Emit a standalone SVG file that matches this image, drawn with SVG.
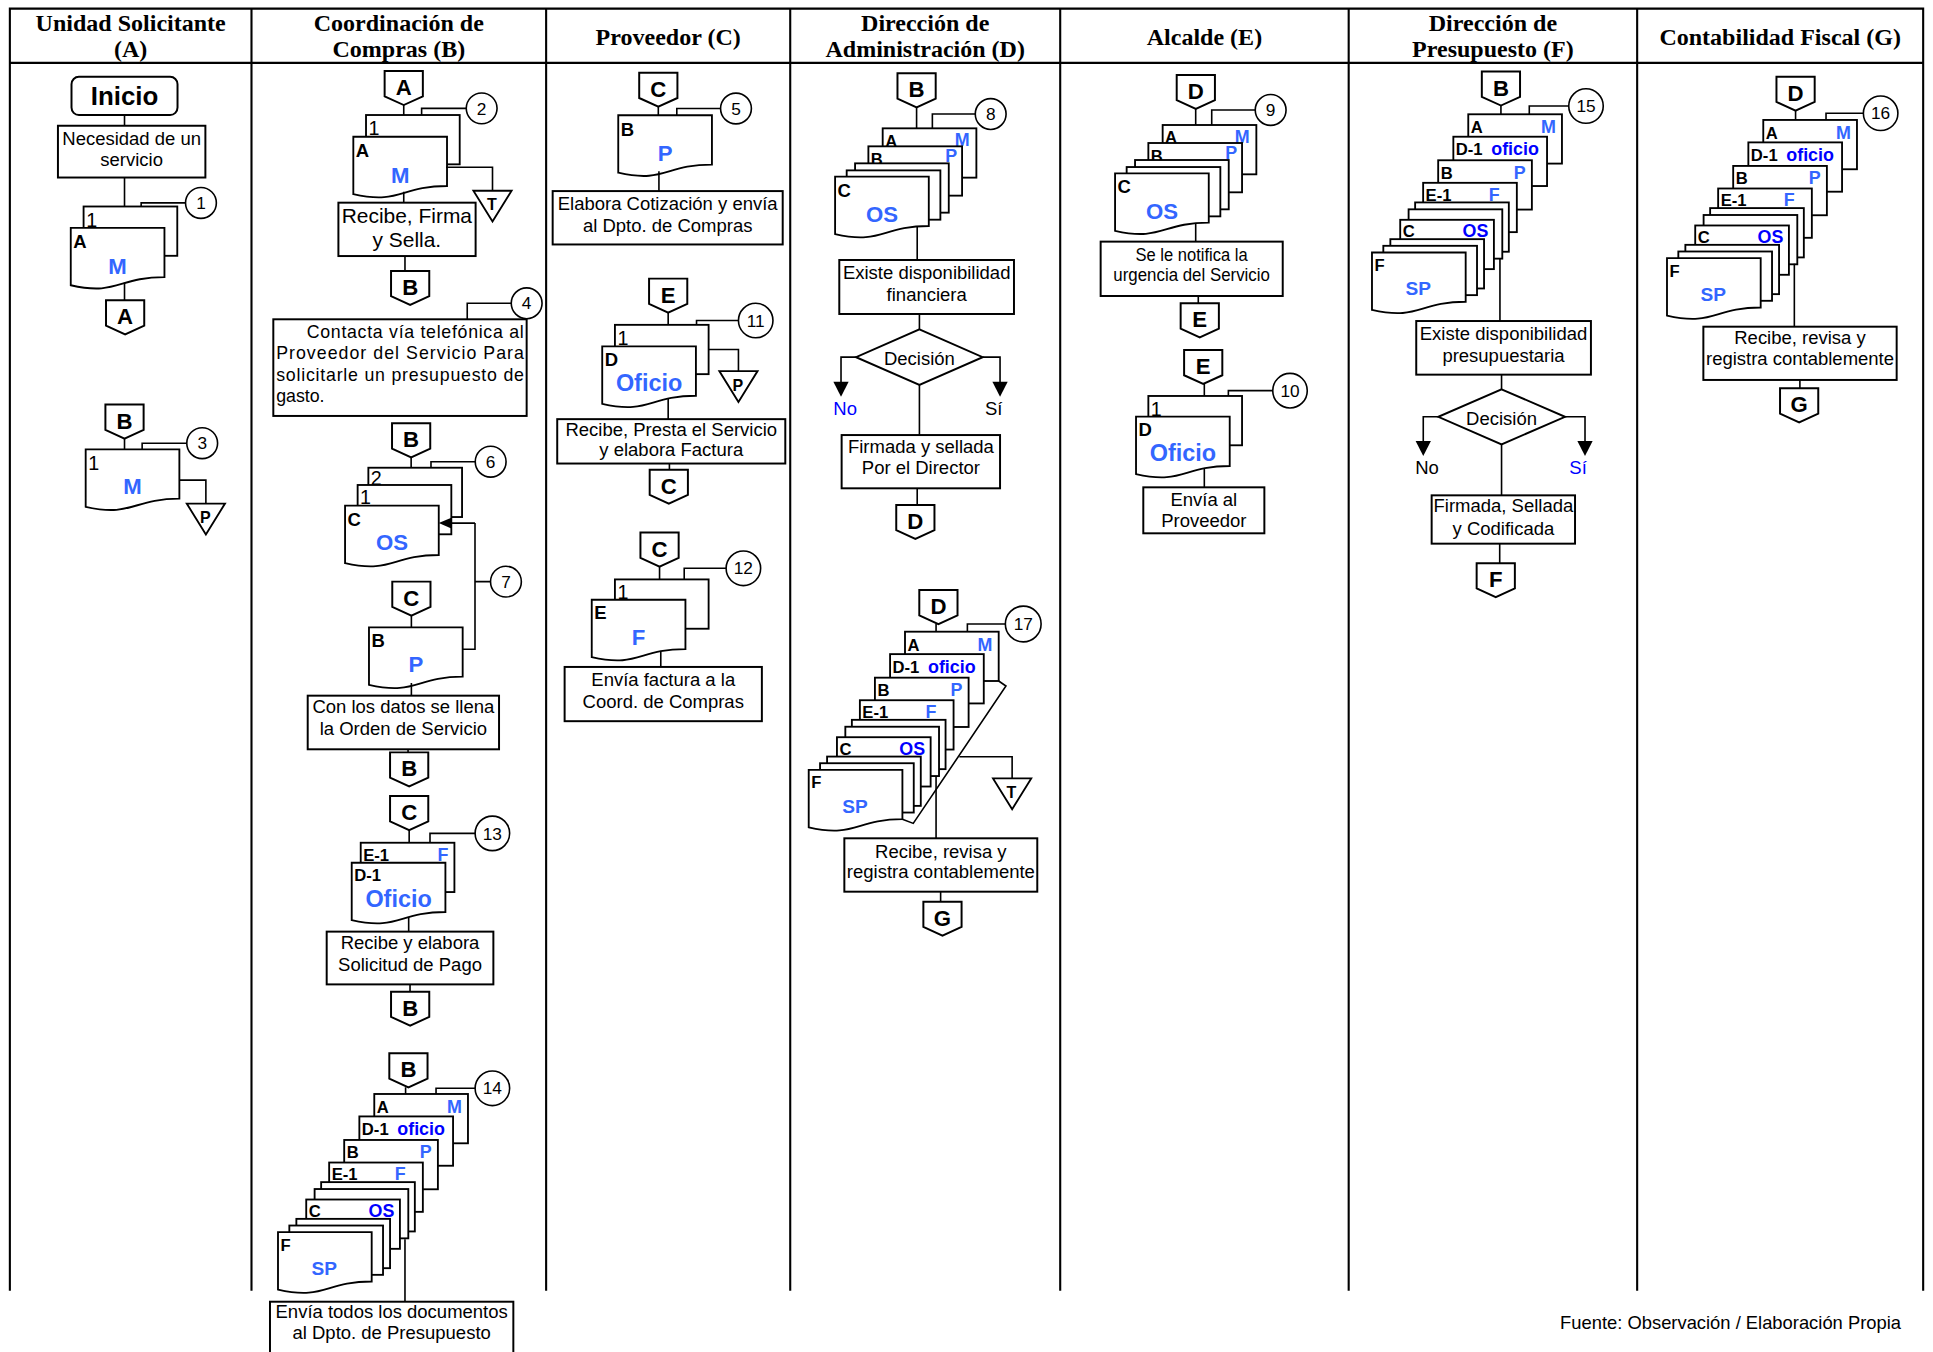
<svg xmlns="http://www.w3.org/2000/svg" width="1933" height="1352" viewBox="0 0 1933 1352">
<style>
.tb{fill:none;stroke:#000;stroke-width:1.7}
.bx{fill:#fff;stroke:#000;stroke-width:1.6}
.ln{fill:none;stroke:#000;stroke-width:1.3}
.ah{fill:#000;stroke:none}
.ci{fill:#fff;stroke:#000;stroke-width:1.3}
text{font-family:"Liberation Sans",Arial,sans-serif;fill:#000}
.hd{font-family:"Liberation Serif","Times New Roman",serif;font-weight:bold;font-size:19.5px;text-anchor:middle}
.t{font-size:15px;text-anchor:middle}
.cn{font-size:18px;font-weight:bold;text-anchor:middle}
.num{font-size:14px;text-anchor:middle}
.lk{font-size:13.5px;font-weight:bold}
.lg{font-size:15px;font-weight:bold}
.l1{font-size:16px}
.lc{font-size:14.5px;font-weight:bold;text-anchor:end}
.tl{font-size:13px;font-weight:bold;text-anchor:middle}
.lb{fill:#3366ff;font-weight:bold}
.db{fill:#0000ff;font-weight:bold}
.blue{fill:#0000ff}
</style>
<defs>
<path id="doc" d="M0,0H76V40C38,40 38,55.2 0,46.6Z" fill="#fff" stroke="#000" stroke-width="1.5"/>
<rect id="pg" width="76" height="40" fill="#fff" stroke="#000" stroke-width="1.5"/>
<path id="op" d="M0,0H31V20.5L15.5,27.6L0,20.5Z" fill="#fff" stroke="#000" stroke-width="1.6"/>
<path id="tri" d="M0,0H31L15.5,25Z" fill="#fff" stroke="#000" stroke-width="1.5"/>
</defs>
<g transform="scale(1.2328)">
<g id="table">
<path class="tb" d="M8,1047V7H1560V1047M8,51H1560M204,7V1047M443,7V1047M641,7V1047M860,7V1047M1094,7V1047M1328,7V1047"/>
<text class="hd" x="106" y="25.5">Unidad Solicitante</text>
<text class="hd" x="106" y="46">(A)</text>
<text class="hd" x="323.5" y="25.5">Coordinación de</text>
<text class="hd" x="323.5" y="46">Compras (B)</text>
<text class="hd" x="542" y="36.5">Proveedor (C)</text>
<text class="hd" x="750.5" y="25.5">Dirección de</text>
<text class="hd" x="750.5" y="46">Administración (D)</text>
<text class="hd" x="977" y="36.5">Alcalde (E)</text>
<text class="hd" x="1211" y="25.5">Dirección de</text>
<text class="hd" x="1211" y="46">Presupuesto (F)</text>
<text class="hd" x="1444" y="36.5">Contabilidad Fiscal (G)</text>
</g>

<!-- Column A -->
<g id="a-inicio"><rect class="bx" x="58" y="62.3" width="86" height="31" rx="6"/><text x="101" y="85" style="font-size:21px;font-weight:bold" text-anchor="middle">Inicio</text></g>
<g id="a-necesidad"><rect class="bx" x="47" y="102" width="119.6" height="42"/><text class="t" x="106.8" y="117.3">Necesidad de un</text><text class="t" x="106.8" y="134.7">servicio</text></g>
<g id="a-doc1"><use href="#pg" x="67.8" y="167.5"/><text class="l1" x="70" y="183.8">1</text><use href="#doc" x="57.4" y="184.8"/><text class="lg" x="59.4" y="201">A</text><text class="cn lb" x="95.4" y="222">M</text></g>
<g id="a-c1"><circle class="ci" cx="163" cy="164.6" r="12.5"/><text class="num" x="163" y="169.6">1</text></g>
<g id="a-offA"><use href="#op" x="86" y="243.6"/><text class="cn" x="101.5" y="263.1">A</text></g>
<g id="a-offB"><use href="#op" x="85.5" y="328.2"/><text class="cn" x="101" y="347.7">B</text></g>
<g id="a-doc3"><use href="#doc" x="69.5" y="364.5"/><text class="l1" x="71.5" y="381">1</text><text class="cn lb" x="107.5" y="401">M</text></g>
<g id="a-c3"><circle class="ci" cx="164" cy="359.5" r="12.5"/><text class="num" x="164" y="364.5">3</text></g>
<g id="a-triP"><use href="#tri" x="151.5" y="408.5"/><text class="tl" x="166.5" y="424">P</text></g>

<!-- Column B -->
<g id="b-offA"><use href="#op" x="312" y="57.6"/><text class="cn" x="327.5" y="77.1">A</text></g>
<g id="b-c2"><circle class="ci" cx="390.7" cy="87.9" r="12.5"/><text class="num" x="390.7" y="92.9">2</text></g>
<g id="b-doc2"><use href="#pg" x="296.9" y="93.3"/><text class="l1" x="299" y="109.5">1</text><use href="#doc" x="286.6" y="110.9"/><text class="lg" x="288.6" y="127">A</text><text class="cn lb" x="324.6" y="148.5">M</text></g>
<g id="b-triT"><use href="#tri" x="384" y="154.7"/><text class="tl" x="399" y="170.5">T</text></g>
<g id="b-recibe"><rect class="bx" x="274.5" y="164.4" width="111.3" height="43.3"/><text class="t" style="font-size:17px" x="330" y="181.2">Recibe, Firma</text><text class="t" style="font-size:17px" x="330" y="200.6">y Sella.</text></g>
<g id="b-offB1"><use href="#op" x="317.2" y="219.8"/><text class="cn" x="332.7" y="239.3">B</text></g>
<g id="b-c4"><circle class="ci" cx="427.2" cy="246" r="12.5"/><text class="num" x="427.2" y="251">4</text></g>
<g id="b-contacta"><rect class="bx" x="221.7" y="259" width="205.5" height="78.4"/>
<text style="font-size:14.4px" x="248.8" y="274" textLength="176" lengthAdjust="spacing">Contacta vía telefónica al</text>
<text style="font-size:14.4px" x="224" y="291.5" textLength="201" lengthAdjust="spacing">Proveedor del Servicio Para</text>
<text style="font-size:14.4px" x="224" y="309" textLength="201" lengthAdjust="spacing">solicitarle un presupuesto de</text>
<text style="font-size:14.4px" x="224" y="326">gasto.</text></g>
<g id="b-offB2"><use href="#op" x="318" y="343.4"/><text class="cn" x="333.5" y="362.9">B</text></g>
<g id="b-c6"><circle class="ci" cx="398" cy="374.5" r="12.5"/><text class="num" x="398" y="379.5">6</text></g>
<g id="b-doc6"><use href="#pg" x="298.8" y="379.4"/><text class="l1" x="300.8" y="393.3">2</text><use href="#pg" x="290.1" y="393.4"/><text class="l1" x="292" y="408.8">1</text><use href="#doc" x="279.9" y="410.2"/><text class="lg" x="281.9" y="427">C</text><text class="cn lb" x="317.9" y="446">OS</text></g>
<g id="b-c7"><circle class="ci" cx="410.4" cy="471.8" r="12.5"/><text class="num" x="410.4" y="476.8">7</text></g>
<g id="b-offC1"><use href="#op" x="318.2" y="471.8"/><text class="cn" x="333.7" y="491.3">C</text></g>
<g id="b-docP"><use href="#doc" x="299.3" y="508.9"/><text class="lg" x="301.3" y="525">B</text><text class="cn lb" x="337.3" y="545.5">P</text></g>
<g id="b-orden"><rect class="bx" x="249.6" y="564.3" width="155.2" height="43.5"/><text class="t" x="327.2" y="578.6">Con los datos se llena</text><text class="t" x="327.2" y="596.2">la Orden de Servicio</text></g>
<g id="b-offB3"><use href="#op" x="316.4" y="610.3"/><text class="cn" x="331.9" y="629.8">B</text></g>
<g id="b-offC2"><use href="#op" x="316.4" y="645.7"/><text class="cn" x="331.9" y="665.2">C</text></g>
<g id="b-c13"><circle class="ci" cx="399.4" cy="676" r="14"/><text class="num" x="399.4" y="681">13</text></g>
<g id="b-doc13"><use href="#pg" x="292.6" y="683.6"/><text class="lk" x="294.6" y="698.2">E-1</text><text class="lc lb" x="363.7" y="698.2">F</text><use href="#doc" x="285.3" y="699.8"/><text class="lk" x="287.3" y="714.4">D-1</text><text class="cn lb" style="font-size:19px" x="323.3" y="735.5">Oficio</text></g>
<g id="b-solicitud"><rect class="bx" x="265" y="755.7" width="135.2" height="42.8"/><text class="t" x="332.6" y="770">Recibe y elabora</text><text class="t" x="332.6" y="787.6">Solicitud de Pago</text></g>
<g id="b-offB4"><use href="#op" x="317.2" y="804.4"/><text class="cn" x="332.7" y="823.9">B</text></g>
<g id="b-offB5"><use href="#op" x="315.8" y="854.4"/><text class="cn" x="331.3" y="873.9">B</text></g>
<g id="b-c14"><circle class="ci" cx="399.4" cy="882.8" r="14"/><text class="num" x="399.4" y="887.8">14</text></g>
<g id="b-stack14" transform="translate(303.6,887.4)">
<use href="#pg"/><text class="lk" x="2" y="15.5">A</text><text class="lc lb" x="71" y="15.5">M</text>
<use href="#pg" x="-12.1" y="18.2"/><text class="lk" x="-10.1" y="33.2">D-1</text><text class="lc db" x="57.3" y="33.2">oficio</text>
<use href="#pg" x="-24.4" y="37.3"/><text class="lk" x="-22.4" y="52.3">B</text><text class="lc lb" x="46.6" y="52.3">P</text>
<use href="#pg" x="-36.6" y="55.6"/><text class="lk" x="-34.6" y="70">E-1</text><text class="lc lb" x="25.4" y="70">F</text>
<use href="#pg" x="-43.1" y="71.5"/><use href="#pg" x="-48.4" y="77.1"/>
<use href="#pg" x="-55.2" y="85.6"/><text class="lk" x="-53.2" y="99.8">C</text><text class="lc db" x="16.3" y="99.8">OS</text>
<use href="#pg" x="-63.2" y="101.3"/><use href="#pg" x="-68.9" y="106.7"/>
<use href="#doc" x="-78.1" y="112.1"/><text class="lk" x="-76.1" y="127.1">F</text><text class="cn lb" style="font-size:15.5px" x="-40.5" y="146.7">SP</text>
</g>
<g id="b-envia"><rect class="bx" x="219" y="1055.9" width="197.4" height="42"/><text class="t" x="317.7" y="1069.4">Envía todos los documentos</text><text class="t" x="317.7" y="1086.1">al Dpto. de Presupuesto</text></g>

<!-- Column C -->
<g id="c-offC1"><use href="#op" x="518.5" y="59"/><text class="cn" x="534" y="78.5">C</text></g>
<g id="c-c5"><circle class="ci" cx="597" cy="88" r="12.5"/><text class="num" x="597" y="93">5</text></g>
<g id="c-docP"><use href="#doc" x="501.5" y="93.5"/><text class="lg" x="503.5" y="110">B</text><text class="cn lb" x="539.5" y="130.5">P</text></g>
<g id="c-cotiza"><rect class="bx" x="448.3" y="155" width="186.6" height="43.3"/><text class="t" x="541.6" y="170.5">Elabora Cotización y envía</text><text class="t" x="541.6" y="188">al Dpto. de Compras</text></g>
<g id="c-offE"><use href="#op" x="526.5" y="226"/><text class="cn" x="542" y="245.5">E</text></g>
<g id="c-c11"><circle class="ci" cx="613" cy="260" r="14"/><text class="num" x="613" y="265">11</text></g>
<g id="c-doc11"><use href="#pg" x="498.8" y="263.5"/><text class="l1" x="500.8" y="279.8">1</text><use href="#doc" x="488.5" y="281"/><text class="lg" x="490.5" y="297">D</text><text class="cn lb" style="font-size:19px" x="526.5" y="317">Oficio</text></g>
<g id="c-triP"><use href="#tri" x="583.5" y="301"/><text class="tl" x="598.5" y="317">P</text></g>
<g id="c-presta"><rect class="bx" x="452" y="340" width="185" height="36"/><text class="t" x="544.5" y="353.5">Recibe, Presta el Servicio</text><text class="t" x="544.5" y="370">y elabora Factura</text></g>
<g id="c-offC2"><use href="#op" x="527" y="381"/><text class="cn" x="542.5" y="400.5">C</text></g>
<g id="c-offC3"><use href="#op" x="519.5" y="432"/><text class="cn" x="535" y="451.5">C</text></g>
<g id="c-c12"><circle class="ci" cx="603" cy="461" r="14"/><text class="num" x="603" y="466">12</text></g>
<g id="c-doc12"><use href="#pg" x="498.8" y="470"/><text class="l1" x="500.8" y="486">1</text><use href="#doc" x="480" y="486.5"/><text class="lg" x="482" y="502.5">E</text><text class="cn lb" x="518" y="523">F</text></g>
<g id="c-factura"><rect class="bx" x="458" y="541" width="160" height="44"/><text class="t" x="538" y="556.5">Envía factura a la</text><text class="t" x="538" y="574">Coord. de Compras</text></g>

<!-- Column D -->
<g id="d-offB"><use href="#op" x="728" y="59.5"/><text class="cn" x="743.5" y="79">B</text></g>
<g id="d-c8"><circle class="ci" cx="803.6" cy="92.5" r="12.5"/><text class="num" x="803.6" y="97.5">8</text></g>
<g id="d-stack8" transform="translate(716,104.1)">
<use href="#pg"/><text class="lk" x="2" y="15">A</text><text class="lc lb" x="70.5" y="14.5">M</text>
<use href="#pg" x="-11.6" y="14.6"/><text class="lk" x="-9.6" y="29.8">B</text><text class="lc lb" x="60.4" y="27.5">P</text>
<use href="#pg" x="-22.4" y="28.4"/><use href="#pg" x="-29.2" y="34.1"/>
<use href="#doc" x="-38.6" y="39.2"/><text class="lg" x="-36.6" y="55.4">C</text><text class="cn lb" x="-0.6" y="76">OS</text>
</g>
<g id="d-financiera"><rect class="bx" x="680.8" y="210.9" width="141.7" height="43.8"/><text class="t" x="751.7" y="226.6">Existe disponibilidad</text><text class="t" x="751.7" y="243.9">financiera</text></g>
<g id="d-decision"><path class="bx" d="M745.8,267.1L797.1,289.7L745.8,312.3L694.4,289.7Z"/><text class="t" x="745.8" y="296">Decisión</text></g>
<g id="d-no"><text class="blue" style="font-size:15px" x="676" y="336.5">No</text></g>
<g id="d-si"><text style="font-size:15px" x="799" y="336.5">Sí</text></g>
<g id="d-firmada"><rect class="bx" x="682.7" y="352.9" width="128.5" height="43.2"/><text class="t" x="747" y="367.2">Firmada y sellada</text><text class="t" x="747" y="384.5">Por el Director</text></g>
<g id="d-offD1"><use href="#op" x="727" y="409.6"/><text class="cn" x="742.5" y="429.1">D</text></g>
<g id="d-offD2"><use href="#op" x="745.7" y="478.6"/><text class="cn" x="761.2" y="498.1">D</text></g>
<g id="d-c17"><circle class="ci" cx="830" cy="506.2" r="14.5"/><text class="num" x="830" y="511.2">17</text></g>
<g id="d-stack17" transform="translate(734.1,512.4)">
<use href="#pg"/><text class="lk" x="2" y="15.5">A</text><text class="lc lb" x="71" y="15.5">M</text>
<use href="#pg" x="-12.1" y="18.2"/><text class="lk" x="-10.1" y="33.2">D-1</text><text class="lc db" x="57.3" y="33.2">oficio</text>
<use href="#pg" x="-24.4" y="37.3"/><text class="lk" x="-22.4" y="52.3">B</text><text class="lc lb" x="46.6" y="52.3">P</text>
<use href="#pg" x="-36.6" y="55.6"/><text class="lk" x="-34.6" y="70">E-1</text><text class="lc lb" x="25.4" y="70">F</text>
<use href="#pg" x="-43.1" y="71.5"/><use href="#pg" x="-48.4" y="77.1"/>
<use href="#pg" x="-55.2" y="85.6"/><text class="lk" x="-53.2" y="99.8">C</text><text class="lc db" x="16.3" y="99.8">OS</text>
<use href="#pg" x="-63.2" y="101.3"/><use href="#pg" x="-68.9" y="106.7"/>
<use href="#doc" x="-78.1" y="112.1"/><text class="lk" x="-76.1" y="127.1">F</text><text class="cn lb" style="font-size:15.5px" x="-40.5" y="146.7">SP</text>
<path class="ln" d="M76,40L81.9,44.1L6.7,155.5L-2.1,152.1"/>
</g>
<g id="d-triT"><use href="#tri" x="805.5" y="631.4"/><text class="tl" x="820.5" y="647">T</text></g>
<g id="d-registra"><rect class="bx" x="684.9" y="680" width="156.5" height="43.3"/><text class="t" x="763.2" y="695.7">Recibe, revisa y</text><text class="t" x="763.2" y="712.5">registra contablemente</text></g>
<g id="d-offG"><use href="#op" x="749" y="731.4"/><text class="cn" x="764.5" y="750.9">G</text></g>

<!-- Column E -->
<g id="e-offD"><use href="#op" x="954.5" y="60.8"/><text class="cn" x="970" y="80.3">D</text></g>
<g id="e-c9"><circle class="ci" cx="1030.7" cy="89.2" r="12.5"/><text class="num" x="1030.7" y="94.2">9</text></g>
<g id="e-stack9" transform="translate(943.1,101.4)">
<use href="#pg"/><text class="lk" x="2" y="15">A</text><text class="lc lb" x="70.5" y="14.5">M</text>
<use href="#pg" x="-11.6" y="14.6"/><text class="lk" x="-9.6" y="29.8">B</text><text class="lc lb" x="60.4" y="27.5">P</text>
<use href="#pg" x="-22.4" y="28.4"/><use href="#pg" x="-29.2" y="34.1"/>
<use href="#doc" x="-38.6" y="39.2"/><text class="lg" x="-36.6" y="55.4">C</text><text class="cn lb" x="-0.6" y="76">OS</text>
</g>
<g id="e-notifica"><rect class="bx" x="892.8" y="196" width="147.7" height="44.1"/><text class="t" x="966.6" y="211.4" textLength="91" lengthAdjust="spacingAndGlyphs">Se le notifica la</text><text class="t" x="966.6" y="228" textLength="127" lengthAdjust="spacingAndGlyphs">urgencia del Servicio</text></g>
<g id="e-offE1"><use href="#op" x="957.7" y="246"/><text class="cn" x="973.2" y="265.5">E</text></g>
<g id="e-offE2"><use href="#op" x="960.5" y="283.9"/><text class="cn" x="976" y="303.4">E</text></g>
<g id="e-c10"><circle class="ci" cx="1046.4" cy="316.9" r="14"/><text class="num" x="1046.4" y="321.9">10</text></g>
<g id="e-doc10"><use href="#pg" x="931.5" y="321.2"/><text class="l1" x="933.5" y="337.5">1</text><use href="#doc" x="921.5" y="338"/><text class="lg" x="923.5" y="354">D</text><text class="cn lb" style="font-size:19px" x="959.5" y="373.7">Oficio</text></g>
<g id="e-envia"><rect class="bx" x="927.4" y="395.3" width="98.2" height="37.3"/><text class="t" x="976.5" y="410.5">Envía al</text><text class="t" x="976.5" y="427.7">Proveedor</text></g>

<!-- Column F -->
<g id="f-offB"><use href="#op" x="1202" y="58"/><text class="cn" x="1217.5" y="77.5">B</text></g>
<g id="f-c15"><circle class="ci" cx="1286.5" cy="86" r="14"/><text class="num" x="1286.5" y="91">15</text></g>
<g id="f-stack15" transform="translate(1191,92.7)">
<use href="#pg"/><text class="lk" x="2" y="15.5">A</text><text class="lc lb" x="71" y="15.5">M</text>
<use href="#pg" x="-12.1" y="18.2"/><text class="lk" x="-10.1" y="33.2">D-1</text><text class="lc db" x="57.3" y="33.2">oficio</text>
<use href="#pg" x="-24.4" y="37.3"/><text class="lk" x="-22.4" y="52.3">B</text><text class="lc lb" x="46.6" y="52.3">P</text>
<use href="#pg" x="-36.6" y="55.6"/><text class="lk" x="-34.6" y="70">E-1</text><text class="lc lb" x="25.4" y="70">F</text>
<use href="#pg" x="-43.1" y="71.5"/><use href="#pg" x="-48.4" y="77.1"/>
<use href="#pg" x="-55.2" y="85.6"/><text class="lk" x="-53.2" y="99.8">C</text><text class="lc db" x="16.3" y="99.8">OS</text>
<use href="#pg" x="-63.2" y="101.3"/><use href="#pg" x="-68.9" y="106.7"/>
<use href="#doc" x="-78.1" y="112.1"/><text class="lk" x="-76.1" y="127.1">F</text><text class="cn lb" style="font-size:15.5px" x="-40.5" y="146.7">SP</text>
</g>
<g id="f-presupuestaria"><rect class="bx" x="1148.8" y="260.4" width="141.7" height="43.5"/><text class="t" x="1219.6" y="276">Existe disponibilidad</text><text class="t" x="1219.6" y="293.5">presupuestaria</text></g>
<g id="f-decision"><path class="bx" d="M1218,315.8L1269.5,338.1L1218,360.4L1166.7,338.1Z"/><text class="t" x="1218" y="344.5">Decisión</text></g>
<g id="f-no"><text style="font-size:15px" x="1148" y="384.5">No</text></g>
<g id="f-si"><text class="blue" style="font-size:15px" x="1273" y="384.5">Sí</text></g>
<g id="f-firmada"><rect class="bx" x="1161.3" y="401.8" width="116.3" height="39.2"/><text class="t" x="1219.5" y="415.7">Firmada, Sellada</text><text class="t" x="1219.5" y="433.6">y Codificada</text></g>
<g id="f-offF"><use href="#op" x="1197.8" y="456.8"/><text class="cn" x="1213.3" y="476.3">F</text></g>

<!-- Column G -->
<g id="g-offD"><use href="#op" x="1441" y="62.2"/><text class="cn" x="1456.5" y="81.7">D</text></g>
<g id="g-c16"><circle class="ci" cx="1525.5" cy="91.9" r="14"/><text class="num" x="1525.5" y="96.9">16</text></g>
<g id="g-stack16" transform="translate(1430.3,97.3)">
<use href="#pg"/><text class="lk" x="2" y="15.5">A</text><text class="lc lb" x="71" y="15.5">M</text>
<use href="#pg" x="-12.1" y="18.2"/><text class="lk" x="-10.1" y="33.2">D-1</text><text class="lc db" x="57.3" y="33.2">oficio</text>
<use href="#pg" x="-24.4" y="37.3"/><text class="lk" x="-22.4" y="52.3">B</text><text class="lc lb" x="46.6" y="52.3">P</text>
<use href="#pg" x="-36.6" y="55.6"/><text class="lk" x="-34.6" y="70">E-1</text><text class="lc lb" x="25.4" y="70">F</text>
<use href="#pg" x="-43.1" y="71.5"/><use href="#pg" x="-48.4" y="77.1"/>
<use href="#pg" x="-55.2" y="85.6"/><text class="lk" x="-53.2" y="99.8">C</text><text class="lc db" x="16.3" y="99.8">OS</text>
<use href="#pg" x="-63.2" y="101.3"/><use href="#pg" x="-68.9" y="106.7"/>
<use href="#doc" x="-78.1" y="112.1"/><text class="lk" x="-76.1" y="127.1">F</text><text class="cn lb" style="font-size:15.5px" x="-40.5" y="146.7">SP</text>
</g>
<g id="g-registra"><rect class="bx" x="1381.7" y="265" width="156.8" height="43.2"/><text class="t" x="1460.1" y="279">Recibe, revisa y</text><text class="t" x="1460.1" y="296.1">registra contablemente</text></g>
<g id="g-offG"><use href="#op" x="1443.9" y="315"/><text class="cn" x="1459.4" y="334.5">G</text></g>

<g id="footer"><text style="font-size:14.9px" x="1542" y="1078" text-anchor="end">Fuente: Observación / Elaboración Propia</text></g>

<g id="connectors">
<path class="ln" d="M101,93.3V102M101,144V167.5M150.5,164.6H114.5V167.5M101,229.4V243.6M101,355.8V364.5M151.5,359.5H115.3V364.5M145.5,389.5H167V408.5"/>
<path class="ln" d="M327.5,85.2V93.3M378.2,87.9H342V93.3M361.8,135.7H399.5V154.7M327.5,155.6V164.4M328.5,207.7V219.8M414.7,246H379V259M333.5,371V379.4M385.5,374.5H349.6V379.4M397.9,471.8H385.3M385.3,424.3V526.7H375.3M385.3,424.3H366.4M333.7,499.4V508.9M333.7,554V564.3M331,607.8V610.3M331.9,673.3V683.6M385.4,676H348.8V683.6M331.5,743.8V755.7M332.6,798.5V804.4M329,882V887.4M385.4,882.8H353.7V887.4M328.5,1005.3V1055.9"/>
<polygon class="ah" points="355.9,424.3 366.6,419.7 366.6,428.9"/>
<path class="ln" d="M534,86.6V93.5M584.5,88H549V93.5M534.5,139V155M542,253.6V263.5M599,260H565V263.5M574.8,283.5H599V301M542,323.5V340M543,376V381M535,459.6V470M589,461H555V470M536,528.5V541"/>
<path class="ln" d="M743.5,87.1V104.1M791.1,92.5H756.3V104.1M744,183.6V210.9M745.8,254.7V267.1M694.4,289.7H682.2V310M797.1,289.7H811.2V310M745.8,312.3V352.9M744,396.1V409.6M759.3,506.2V512.4M815.5,506.2H784.7V512.4M778.2,613.8H821V631.4M759.3,629.5V680M763,723.3V731.4"/>
<polygon class="ah" points="676,309.6 688.4,309.6 682.2,321.8"/>
<polygon class="ah" points="805,309.6 817.4,309.6 811.2,321.8"/>
<path class="ln" d="M969.9,88.4V101.4M1018.2,89.2H982.9V101.4M969.9,181V196M972,240.1V246M976.9,311.5V321.2M1032.4,316.9H996.4V321.2M976.9,380.5V395.3"/>
<path class="ln" d="M1217.5,85.6V92.7M1272.5,86H1240.5V92.7M1216.7,209.5V260.4M1218,303.9V315.8M1166.7,338.1H1154.5V358M1269.5,338.1H1285.7V358M1218,360.4V401.8M1216.5,441V456.8"/>
<polygon class="ah" points="1148.3,357.7 1160.7,357.7 1154.5,369.9"/>
<polygon class="ah" points="1279.5,357.7 1291.9,357.7 1285.7,369.9"/>
<path class="ln" d="M1456.5,89.8V97.3M1511.5,91.9H1481.2V97.3M1455.5,213.9V265M1460,308.2V315"/>
</g>
</g>
</svg>
